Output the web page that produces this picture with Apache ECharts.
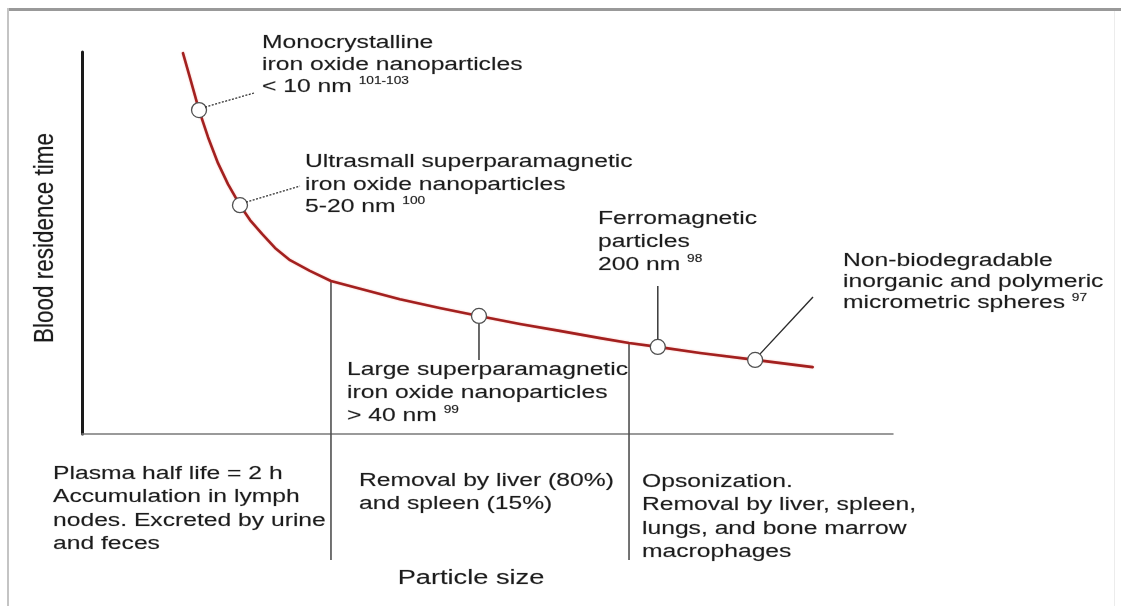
<!DOCTYPE html>
<html>
<head>
<meta charset="utf-8">
<script src="https://cdn.jsdelivr.net/npm/echarts@6/dist/echarts.min.js"></script>
<style>
html,body{margin:0;padding:0;background:#fff;}
#c{width:1121px;height:606px;}
</style>
</head>
<body>
<div id="c"></div>
<script>
// ---- data (schematic units: x = particle size, y = blood residence time) ----
const curveX = [12.45, 13.32, 14.43, 15.54, 16.77, 18.0, 19.48, 20.72, 22.2, 23.8, 25.65, 28.1, 30.7, 34.3, 39.2, 44.1, 48.95, 54.0, 58.9, 63.9, 67.45, 71.0, 76.2, 83.0, 90.1];
const curveY = [99.7, 93.2, 84.8, 77.7, 70.9, 65.4, 59.9, 56.0, 52.4, 48.7, 45.5, 42.7, 40.05, 38.0, 35.3, 33.0, 30.9, 28.8, 27.0, 25.1, 23.8, 22.8, 21.2, 19.4, 17.5];
const markerX = [14.43, 19.48, 48.95, 71.0, 83.0];
const markerY = [84.8, 59.9, 30.9, 22.8, 19.4];
const dividerX = [30.7, 67.45];
const dividerTop = [40.05, 23.8];
const dividerBottom = -33;

const markerLabels = [
  'Monocrystalline\niron oxide nanoparticles\n< 10 nm {sup|101-103}',
  'Ultrasmall superparamagnetic\niron oxide nanoparticles\n5-20 nm {sup|100}',
  'Large superparamagnetic\niron oxide nanoparticles\n> 40 nm {sup|99}',
  'Ferromagnetic\nparticles\n200 nm {sup|98}',
  'Non-biodegradable\ninorganic and polymeric\nmicrometric spheres {sup|97}'
];
const regionLabels = [
  'Plasma half life = 2 h\nAccumulation in lymph\nnodes. Excreted by urine\nand feces',
  'Removal by liver (80%)\nand spleen (15%)',
  'Opsonization.\nRemoval by liver, spleen,\nlungs, and bone marrow\nmacrophages'
];
const xTitle = 'Particle size';
const yTitle = 'Blood residence time';

// ---- layout / style ----
const FONT = 'Liberation Sans, Arial, Helvetica, sans-serif';
const SX = 1.37;
const INK = '#1c1c1c';
const HALO = 'rgba(30,30,30,0.3)';
const chart = echarts.init(document.getElementById('c'), null, {renderer: 'canvas'});

const curve = curveX.map((x, i) => [x, curveY[i]]);
const markers = markerX.map((x, i) => [x, markerY[i]]);
const dividerSeries = dividerX.map((x, i) => ({
  type: 'line', data: [[x, dividerTop[i]], [x, dividerBottom]], clip: false, symbol: 'none',
  lineStyle: {color: '#505050', width: 1.6}, z: 1, silent: true
}));

chart.setOption({
  animation: false,
  backgroundColor: '#ffffff',
  grid: {left: 82, right: 228, top: 52, bottom: 172},
  xAxis: {type: 'value', min: 0, max: 100, axisLine: {show: true, lineStyle: {color: '#7a7a7a', width: 1.5}},
    axisTick: {show: false}, axisLabel: {show: false}, splitLine: {show: false}},
  yAxis: {type: 'value', min: 0, max: 100, axisLine: {show: true, lineStyle: {color: '#1a1a1a', width: 3}},
    axisTick: {show: false}, axisLabel: {show: false}, splitLine: {show: false}},
  series: [
    ...dividerSeries,
    {type: 'line', data: curve, smooth: false, symbol: 'none', clip: false,
      lineStyle: {color: '#a3201f', width: 2.6, cap: 'round', join: 'round', shadowColor: 'rgba(230,90,70,0.4)', shadowBlur: 2}, z: 2},
    {type: 'scatter', data: markers, symbol: 'circle', symbolSize: 15, clip: false,
      itemStyle: {color: '#ffffff', opacity: 1, borderColor: '#505050', borderWidth: 1.3}, z: 5}
  ]
});

function px(p) { return chart.convertToPixel({gridIndex: 0}, p); }
const m = markers.map(px);

function txt(x, y, text, lh) {
  return {
    type: 'text', x: x, y: y, scaleX: SX, z: 20,
    style: {
      text: text, fill: INK, stroke: HALO, lineWidth: 0.5, fontSize: 18, fontFamily: FONT, lineHeight: lh,
      align: 'left', verticalAlign: 'top',
      rich: {sup: {fontSize: 10, fontFamily: FONT, lineHeight: 12, verticalAlign: 'top', fill: INK}}
    }
  };
}
function seg(p1, p2, dashed) {
  return {type: 'line', z: 15, shape: {x1: p1[0], y1: p1[1], x2: p2[0], y2: p2[1]},
    style: {stroke: dashed ? '#333' : '#2a2a2a', lineWidth: dashed ? 1.3 : 1.4, lineDash: dashed ? [2, 1.5] : null}};
}

const graphics = [
  // frame
  {type: 'rect', shape: {x: 8, y: 8, width: 1113, height: 3}, style: {fill: '#999999'}, z: 30},
  {type: 'rect', shape: {x: 7, y: 8, width: 2, height: 598}, style: {fill: '#c4c4c4'}, z: 30},
  {type: 'rect', shape: {x: 1114, y: 11, width: 1, height: 595}, style: {fill: '#ececec'}, z: 30},
  // leaders
  seg([m[0][0] + 6, m[0][1] - 3], [254, 93], true),
  seg([m[1][0] + 6, m[1][1] - 3], [300, 186], true),
  seg([m[2][0], m[2][1] + 8], [m[2][0], 360], false),
  seg([m[3][0], m[3][1] - 8], [m[3][0], 286], false),
  seg([m[4][0] + 5, m[4][1] - 6], [813, 297], false),
  // annotations
  txt(262, 32, markerLabels[0], 22),
  txt(305, 151, markerLabels[1], 22.5),
  txt(347, 359, markerLabels[2], 23),
  txt(598, 208, markerLabels[3], 23),
  txt(843, 251, markerLabels[4], 21),
  txt(53, 462, regionLabels[0], 23.5),
  txt(359, 470, regionLabels[1], 23),
  txt(642, 470, regionLabels[2], 23.5),
  // axis titles
  {type: 'text', x: 471, y: 578, scaleX: 1.36, z: 20,
    style: {text: xTitle, fill: INK, stroke: HALO, lineWidth: 0.5, fontSize: 20, fontFamily: FONT,
      align: 'center', verticalAlign: 'middle'}},
  {type: 'text', x: 45, y: 238, rotation: Math.PI / 2, scaleY: 1.22, z: 20,
    style: {text: yTitle, fill: INK, stroke: HALO, lineWidth: 0.5, fontSize: 22.5, fontFamily: FONT,
      align: 'center', verticalAlign: 'middle'}}
];
chart.setOption({graphic: {elements: graphics}});
</script>
</body>
</html>
